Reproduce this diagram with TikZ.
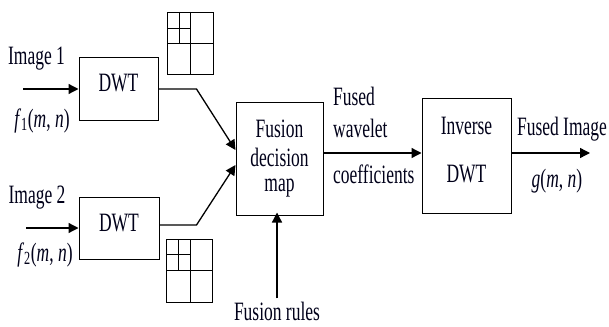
\documentclass[tikz,border=0pt]{standalone}
\usepackage{fontspec}
\setmainfont{Liberation Serif}[FakeStretch=0.66]
\usetikzlibrary{arrows.meta}
\begin{document}
\begin{tikzpicture}[x=1pt,y=-1pt,
  box/.style={draw,line width=1pt,inner sep=0pt},
  arr/.style={line width=1.3pt,-{Triangle[length=10pt,width=10pt]}},
  lbl/.style={inner sep=0pt,anchor=base,text=black!90!blue,font=\fontsize{26.5}{29}\selectfont},
  lblw/.style={lbl,anchor=base west},
  gridln/.style={line width=0.9pt}]
\useasboundingbox (0,0) rectangle (609,326);
% boxes
\node[box,minimum width=79pt,minimum height=62pt] (dwt1) at (118.5,89) {};
\node[box,minimum width=80pt,minimum height=62pt] (dwt2) at (119,228) {};
\node[box,minimum width=87pt,minimum height=113pt] (fus) at (279.5,158.5) {};
\node[box,minimum width=89pt,minimum height=115pt] (inv) at (466.5,155.5) {};
% texts
\node[lbl] (t1) at (118.5,92) {DWT};
\node[lbl] (t2) at (119,231) {DWT};
\node[lbl] (fa) at (279.5,137) {Fusion};
\node[lbl] (fb) at (279.5,166) {decision};
\node[lbl] (fc) at (279.5,191) {map};
\node[lbl] (ia) at (466.5,134) {Inverse};
\node[lbl] (ib) at (466.5,182) {DWT};
\node[lbl] (img1) at (36.5,65) {Image 1};
\node[lbl] (f1) at (42,127) {\textit{f}\textsubscript{1}(\textit{m},\,\textit{n})};
\node[lbl] (img2) at (37,203) {Image 2};
\node[lbl] (f2) at (45,261) {\textit{f}\textsubscript{2}(\textit{m},\,\textit{n})};
\node[lblw] (wa) at (333,105) {Fused};
\node[lblw] (wb) at (333,137) {wavelet};
\node[lblw] (wc) at (333,183) {coefficients};
\node[lbl] (fi) at (562,135) {Fused Image};
\node[lbl] (g) at (557,187) {\textit{g}(\textit{m},\,\textit{n})};
\node[lbl] (rules) at (277,320) {Fusion rules};
% connectors
\coordinate (in1) at (23,89);
\coordinate (in2) at (26,228);
\coordinate (out) at (590,153);
\draw[arr] (in1) -- (dwt1.west);
\draw[arr] (in2) -- (dwt2.west);
\draw[arr] (dwt1.east) -- ++(38,0) -- ([yshift=8.5pt]fus.west);
\draw[arr] ([yshift=3pt]dwt2.east) -- ++(37,0) -- ([yshift=-6.5pt]fus.west);
\draw[arr] ([yshift=5.5pt]fus.east) -- ([yshift=2.5pt]inv.west);
\draw[arr] ([yshift=2.5pt]inv.east) -- (out);
\draw[arr] ([yshift=3pt]rules.north) -- ([yshift=3pt]rules.north |- fus.south);
% wavelet grids
\draw[gridln] (167,12) rectangle (213,74);
\draw[gridln] (190,12) -- (190,74) (167,43) -- (213,43) (179,12) -- (179,43) (167,28) -- (190,28);
\draw[gridln] (166,239) rectangle (212,302);
\draw[gridln] (190,239) -- (190,302) (166,270) -- (212,270) (178,239) -- (178,270) (166,254) -- (190,254);
\end{tikzpicture}
\end{document}
